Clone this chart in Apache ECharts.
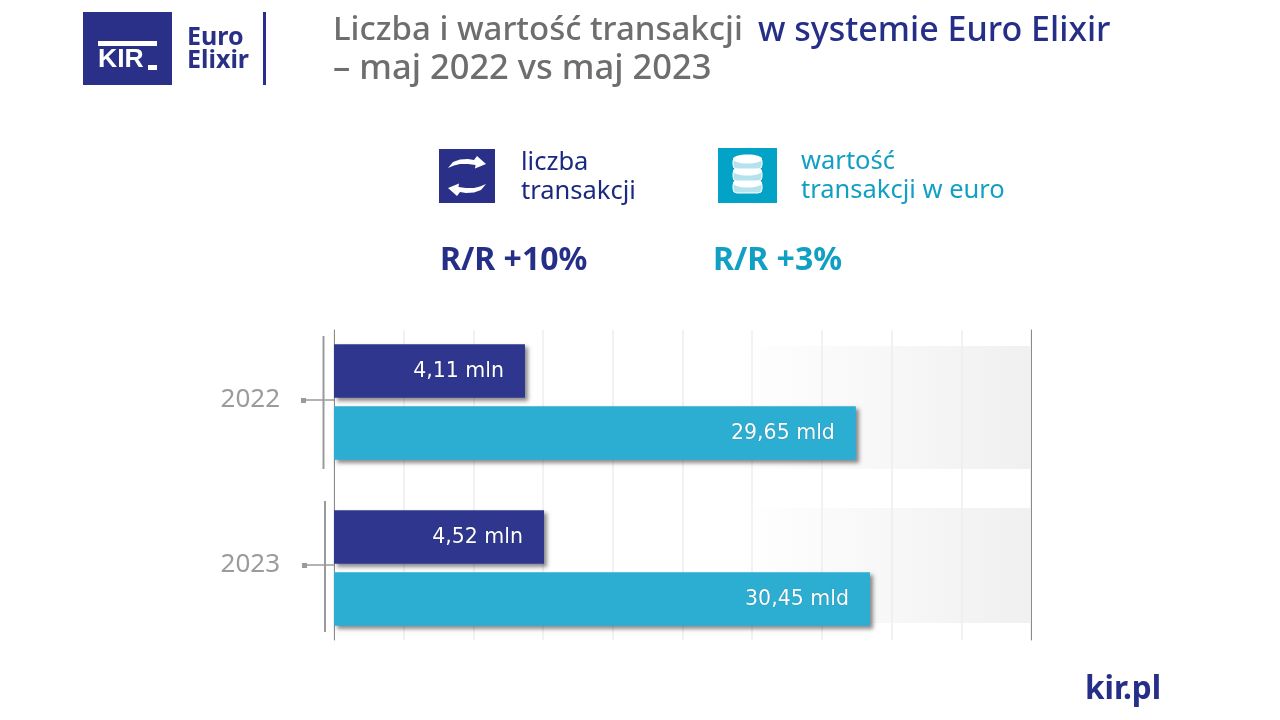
<!DOCTYPE html>
<html>
<head>
<meta charset="utf-8">
<title>Euro Elixir</title>
<style>
  html, body { margin: 0; padding: 0; background: #fff; }
  #chart { width: 1280px; height: 720px; }
</style>
<script src="https://cdn.jsdelivr.net/npm/echarts@6/dist/echarts.min.js"></script>
</head>
<body>
<div id="chart"></div>
<script>
// dane
var years = ['2022', '2023'];
var liczbaMln = [4.11, 4.52];
var wartoscMld = [29.65, 30.45];

var NAVY = '#2e368e';
var TEAL = '#2caed2';
var FONT = '"Noto Sans", "Open Sans", sans-serif';

var myChart = echarts.init(document.getElementById('chart'));

function txt(x, y, text, size, color, weight, font) {
    return {
        type: 'text', x: x, y: y, z: 10,
        style: {
            text: text, fontSize: size, fill: color,
            fontWeight: weight || 'normal', fontFamily: font || FONT,
            textVerticalAlign: 'middle', lineHeight: size * 1.2
        }
    };
}

function fade(x, y, w, h) {
    return {
        type: 'rect', z: -1, silent: true,
        shape: { x: x, y: y, width: w, height: h },
        style: {
            fill: new echarts.graphic.LinearGradient(0, 0, 1, 0, [
                { offset: 0, color: 'rgba(240,240,240,0)' },
                { offset: 1, color: '#f0f0f0' }
            ])
        }
    };
}

// strzalki na ikonie: gorna i jej obrot o 180 stopni wokol srodka ikony
var arrowTop = [[448, 168], [453, 162], [460, 159.5], [468, 159], [474, 160], [477, 156], [486, 164], [475, 168.5], [475.5, 165], [468, 164], [460, 164], [454, 165.5]];
var arrowBottom = arrowTop.map(function (p) { return [934 - p[0], 352 - p[1]]; });

// stos monet na ikonie "wartosc"
function coin(cy) {
    return [
        { type: 'rect', z: 10, shape: { x: 733, y: cy, width: 29, height: 12, r: 4 }, style: { fill: '#b5e3ed', stroke: '#fff', lineWidth: 1 } },
        { type: 'ellipse', z: 10, shape: { cx: 747.5, cy: cy + 2, rx: 14.5, ry: 4.5 }, style: { fill: '#fff' } }
    ];
}

function valueLabel(unit) {
    return {
        show: true,
        position: 'insideRight',
        distance: 21,
        offset: [0, 1],
        color: '#fff',
        fontSize: 20.5,
        fontFamily: 'DejaVu Sans',
        textShadowColor: 'rgba(0,0,0,0.35)',
        textShadowBlur: 1,
        formatter: function (p) { return String(p.value).replace('.', ',') + ' ' + unit; }
    };
}

function barStyle(color) {
    return {
        color: color,
        shadowColor: 'rgba(0,0,0,0.45)', shadowBlur: 4, shadowOffsetX: 3, shadowOffsetY: 3
    };
}

var option = {
    backgroundColor: '#fff',
    animation: false,
    grid: [
        { left: 334, top: 330, width: 697, height: 310 },
        { left: 334, top: 319, width: 697, height: 332 },
        { left: 334, top: 317.5, width: 697, height: 330 }
    ],
    xAxis: [
        {
            // tylko linie siatki
            gridIndex: 0, type: 'value', min: 0, max: 10, interval: 1,
            axisLine: { show: false }, axisTick: { show: false }, axisLabel: { show: false },
            splitLine: { show: true, lineStyle: { color: '#eeeeee', width: 1.5 } }
        },
        { gridIndex: 1, type: 'value', min: 0, max: 15, show: false },
        { gridIndex: 1, type: 'value', min: 0, max: 39.6, show: false },
        { gridIndex: 2, type: 'value', min: 0, max: 1, show: false }
    ],
    yAxis: [
        {
            gridIndex: 0, type: 'value', min: 0, max: 1, position: 'left',
            axisLine: { show: true, lineStyle: { color: '#8a8a8a', width: 1 } },
            axisTick: { show: false }, axisLabel: { show: false }, splitLine: { show: false }
        },
        {
            gridIndex: 0, type: 'value', min: 0, max: 1, position: 'right',
            axisLine: { show: true, lineStyle: { color: '#8a8a8a', width: 1 } },
            axisTick: { show: false }, axisLabel: { show: false }, splitLine: { show: false }
        },
        { gridIndex: 1, type: 'category', data: years, inverse: true, show: false },
        {
            // opisy lat
            gridIndex: 2, type: 'category', data: years, inverse: true,
            axisLine: { show: false },
            axisTick: { show: true, alignWithLabel: true, length: 29, lineStyle: { color: '#9a9a9e', width: 1.5 } },
            axisLabel: { margin: 54, fontSize: 26, color: '#9b9b9b', fontFamily: FONT }
        }
    ],
    series: [
        {
            name: 'liczba transakcji', type: 'bar', xAxisIndex: 1, yAxisIndex: 2,
            data: liczbaMln, barWidth: 53.5, barGap: '16%', z: 3,
            itemStyle: barStyle(NAVY),
            label: valueLabel('mln')
        },
        {
            name: 'wartość transakcji w euro', type: 'bar', xAxisIndex: 2, yAxisIndex: 2,
            data: wartoscMld, barWidth: 53.5, z: 3,
            itemStyle: barStyle(TEAL),
            label: valueLabel('mld')
        }
    ],
    graphic: {
        elements: [
            fade(735, 346, 295, 123),
            fade(737, 508, 293, 115),

            // pionowe kreski przy latach
            { type: 'line', z: 5, shape: { x1: 323.5, y1: 336, x2: 323.5, y2: 469 }, style: { stroke: '#9a9a9e', lineWidth: 2 } },
            { type: 'line', z: 5, shape: { x1: 325, y1: 501, x2: 325, y2: 632 }, style: { stroke: '#9a9a9e', lineWidth: 2 } },
            { type: 'rect', z: 5, shape: { x: 301, y: 398, width: 5, height: 5 }, style: { fill: '#9a9a9e' } },
            { type: 'rect', z: 5, shape: { x: 302, y: 563, width: 5, height: 5 }, style: { fill: '#9a9a9e' } },

            // logo
            { type: 'rect', z: 9, shape: { x: 83, y: 12, width: 89, height: 73 }, style: { fill: '#2a3087' } },
            { type: 'rect', z: 10, shape: { x: 98, y: 41, width: 59, height: 5 }, style: { fill: '#fff' } },
            txt(98, 60, 'KIR', 26.5, '#fff', 'bold', 'Liberation Sans'),
            { type: 'rect', z: 10, shape: { x: 148, y: 65, width: 9, height: 5 }, style: { fill: '#fff' } },
            txt(187, 38, 'Euro', 25, '#2a3087', 'bold'),
            txt(187, 61, 'Elixir', 25, '#2a3087', 'bold'),
            { type: 'rect', z: 10, shape: { x: 263, y: 12, width: 3, height: 73 }, style: { fill: '#2a3087' } },

            // tytul
            txt(333, 31, 'Liczba i wartość transakcji', 33, '#706d6e', 500),
            txt(758, 31, 'w systemie Euro Elixir', 34, '#262f87', 500),
            txt(333, 69, '– maj 2022 vs maj 2023', 34.5, '#706d6e', 500),

            // ikona: liczba transakcji
            { type: 'rect', z: 9, shape: { x: 439, y: 149, width: 56, height: 54 }, style: { fill: '#2a3087' } },
            { type: 'polygon', z: 10, shape: { points: arrowTop }, style: { fill: '#fff' } },
            { type: 'polygon', z: 10, shape: { points: arrowBottom }, style: { fill: '#fff' } },
            txt(521, 163, 'liczba', 25.5, '#1b2a80'),
            txt(521, 192, 'transakcji', 25.5, '#1b2a80'),

            // ikona: wartosc transakcji
            { type: 'rect', z: 9, shape: { x: 718, y: 148, width: 59, height: 55 }, style: { fill: '#03a3c7' } }
        ]
        .concat(coin(181), coin(169), coin(157))
        .concat([
            txt(801, 162, 'wartość', 25.5, '#119fc3'),
            txt(801, 191, 'transakcji w euro', 25.5, '#119fc3'),

            txt(440, 261, 'R/R +10%', 32, '#262f87', 'bold'),
            txt(713, 261, 'R/R +3%', 32, '#119fc3', 'bold'),

            txt(1085, 690, 'kir.pl', 31.5, '#262f87', 'bold')
        ])
    }
};

myChart.setOption(option);

window.addEventListener('resize', function () {
    myChart.resize();
});
</script>
</body>
</html>
